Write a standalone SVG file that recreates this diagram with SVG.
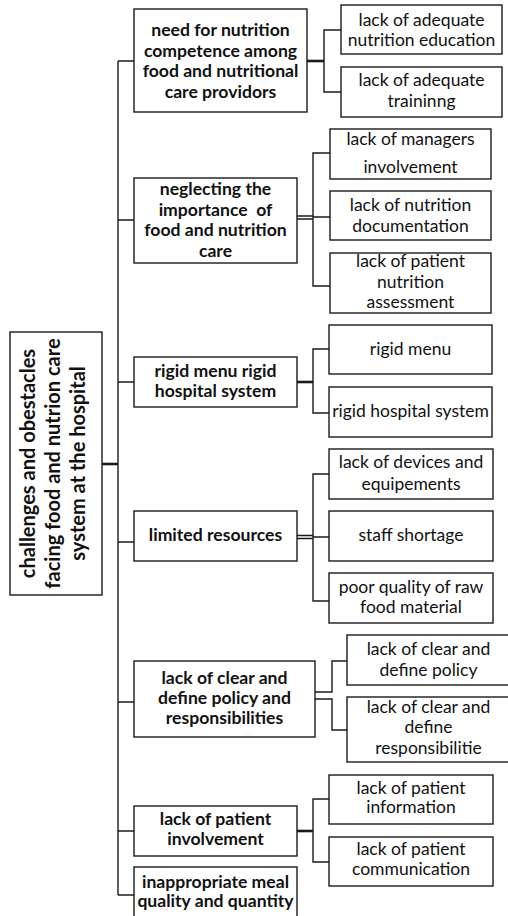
<svg xmlns="http://www.w3.org/2000/svg" width="508" height="916" viewBox="0 0 508 916">
<style>
.box{fill:#fff;stroke:#1a1a1a;stroke-width:1.4}
.ln{fill:none;stroke:#1a1a1a;stroke-width:1.4}
.thk{fill:none;stroke:#1a1a1a;stroke-width:2.6}
.b{font-family:Lato,"Liberation Sans",sans-serif;font-weight:bold;font-size:17.6px;fill:#111;text-anchor:middle}
.r{font-family:Lato,"Liberation Sans",sans-serif;font-size:17.5px;fill:#111;text-anchor:middle}
.root{font-family:Lato,"Liberation Sans",sans-serif;font-weight:bold;font-size:20px;fill:#111;text-anchor:middle}
</style>
<rect width="508" height="916" fill="#fff"/>
<g id="connectors">
<path class="ln" d="M118 61V895"/>
<path class="thk" d="M102 464H118"/>
<path class="ln" d="M118 61H134M118 220H134M118 382H134M118 542H134M118 702H134M118 831H134M118 895H134"/>
<path class="thk" d="M307 61H324"/>
<path class="ln" d="M341 30H324V92H341"/>
<path class="ln" d="M297 216H313M297 219H313"/>
<path class="ln" d="M330 153H313V286H330M313 217H330"/>
<path class="thk" d="M297 382H313"/>
<path class="ln" d="M329 349H313V413H329"/>
<path class="ln" d="M297 535.5H313M297 538.5H313"/>
<path class="ln" d="M329 474H313V601H329M313 537H329"/>
<path class="ln" d="M315 692H332V661H347M315 699H332V730H347"/>
<path class="thk" d="M297 831H313"/>
<path class="ln" d="M329 799H313V862H329"/>
</g>
<g id="root">
<rect class="box" x="10" y="332" width="92" height="263"/>
<g transform="translate(56,463.5) rotate(-90)">
<text class="root" x="0" y="-21">challenges and obestacles</text>
<text class="root" x="0" y="4">facing food and nutrion care</text>
<text class="root" x="0" y="29">system at the hospital</text>
</g>
</g>
<g id="n1">
<rect class="box" x="134" y="9" width="173" height="103"/>
<text class="b" x="220.5" y="36">need for nutrition</text>
<text class="b" x="220.5" y="56.5">competence among</text>
<text class="b" x="220.5" y="77">food and nutritional</text>
<text class="b" x="220.5" y="97.5">care providors</text>
</g>
<g id="n1a">
<rect class="box" x="341" y="5" width="161" height="49"/>
<text class="r" x="421.5" y="26">lack of adequate</text>
<text class="r" x="421.5" y="46">nutrition education</text>
</g>
<g id="n1b">
<rect class="box" x="341" y="67" width="161" height="50"/>
<text class="r" x="421.5" y="86">lack of adequate</text>
<text class="r" x="421.5" y="107">traininng</text>
</g>
<g id="n2">
<rect class="box" x="134" y="178" width="163" height="85"/>
<text class="b" x="215.5" y="195" xml:space="preserve">neglecting the</text>
<text class="b" x="215.5" y="215.5" xml:space="preserve">importance  of</text>
<text class="b" x="215.5" y="236">food and nutrition</text>
<text class="b" x="215.5" y="257">care</text>
</g>
<g id="n2a">
<rect class="box" x="330" y="129" width="161" height="50"/>
<text class="r" x="410.5" y="145">lack of managers</text>
<text class="r" x="410.5" y="173">involvement</text>
</g>
<g id="n2b">
<rect class="box" x="330" y="191" width="161" height="49"/>
<text class="r" x="410.5" y="211">lack of nutrition</text>
<text class="r" x="410.5" y="232">documentation</text>
</g>
<g id="n2c">
<rect class="box" x="330" y="253" width="161" height="60"/>
<text class="r" x="410.5" y="267">lack of patient</text>
<text class="r" x="410.5" y="288">nutrition</text>
<text class="r" x="410.5" y="308">assessment</text>
</g>
<g id="n3">
<rect class="box" x="134" y="357" width="163" height="50"/>
<text class="b" x="215.5" y="377">rigid menu rigid</text>
<text class="b" x="215.5" y="397">hospital system</text>
</g>
<g id="n3a">
<rect class="box" x="329" y="325" width="163" height="49"/>
<text class="r" x="410.5" y="355">rigid menu</text>
</g>
<g id="n3b">
<rect class="box" x="329" y="387" width="163" height="50"/>
<text class="r" x="410.5" y="417">rigid hospital system</text>
</g>
<g id="n4">
<rect class="box" x="134" y="511" width="163" height="50"/>
<text class="b" x="215.5" y="541">limited resources</text>
</g>
<g id="n4a">
<rect class="box" x="329" y="449" width="164" height="50"/>
<text class="r" x="411" y="468">lack of devices and</text>
<text class="r" x="411" y="490">equipements</text>
</g>
<g id="n4b">
<rect class="box" x="329" y="511" width="164" height="50"/>
<text class="r" x="411" y="541">staff shortage</text>
</g>
<g id="n4c">
<rect class="box" x="329" y="573" width="164" height="50"/>
<text class="r" x="411" y="593">poor quality of raw</text>
<text class="r" x="411" y="613">food material</text>
</g>
<g id="n5">
<rect class="box" x="134" y="661" width="181" height="76"/>
<text class="b" x="224.5" y="684">lack of clear and</text>
<text class="b" x="224.5" y="704">define policy and</text>
<text class="b" x="224.5" y="724">responsibilities</text>
</g>
<g id="n5a">
<rect class="box" x="347" y="635" width="163" height="50"/>
<text class="r" x="428.5" y="655">lack of clear and</text>
<text class="r" x="428.5" y="676">define policy</text>
</g>
<g id="n5b">
<rect class="box" x="347" y="697" width="163" height="65"/>
<text class="r" x="428.5" y="713">lack of clear and</text>
<text class="r" x="428.5" y="733">define</text>
<text class="r" x="428.5" y="754">responsibilitie</text>
</g>
<g id="n6">
<rect class="box" x="134" y="806" width="163" height="50"/>
<text class="b" x="215.5" y="825">lack of patient</text>
<text class="b" x="215.5" y="845">involvement</text>
</g>
<g id="n6a">
<rect class="box" x="329" y="775" width="164" height="49"/>
<text class="r" x="411" y="794">lack of patient</text>
<text class="r" x="411" y="813">information</text>
</g>
<g id="n6b">
<rect class="box" x="329" y="837" width="164" height="49"/>
<text class="r" x="411" y="855">lack of patient</text>
<text class="r" x="411" y="875">communication</text>
</g>
<g id="n7">
<rect class="box" x="134" y="867" width="163" height="60"/>
<text class="b" x="215.5" y="888">inappropriate meal</text>
<text class="b" x="215.5" y="907">quality and quantity</text>
</g>
</svg>
